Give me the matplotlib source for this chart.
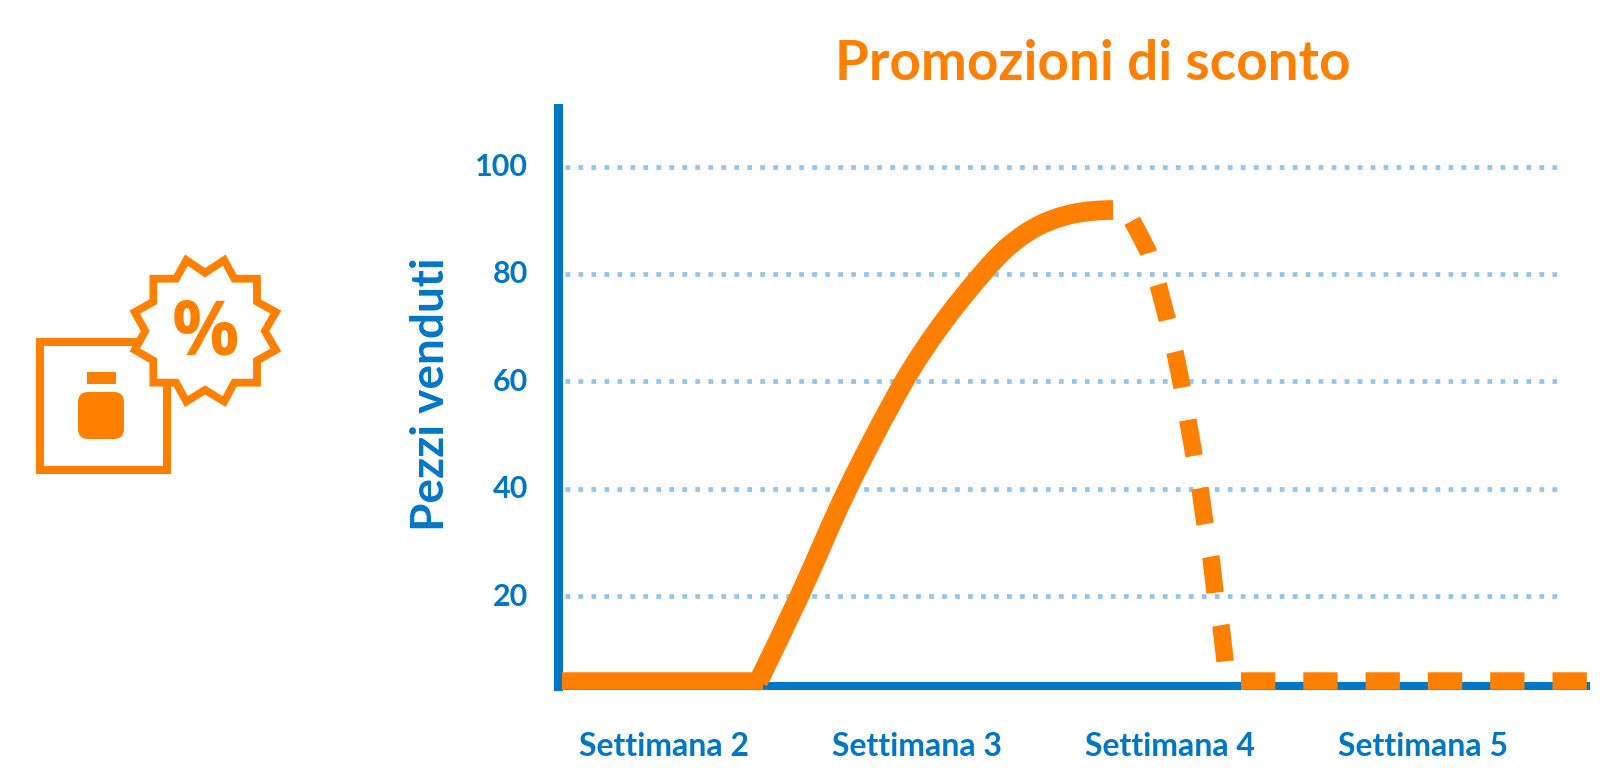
import matplotlib
matplotlib.use("Agg")
import matplotlib.pyplot as plt
from matplotlib.patches import Polygon, Rectangle, FancyBboxPatch, PathPatch
from matplotlib.path import Path
from matplotlib.transforms import ScaledTranslation
import numpy as np

plt.rcParams['font.family'] = ['Lato', 'DejaVu Sans']

BLUE = '#0076c6'
ORANGE = '#ff8000'
GRID = '#93c4ea'

weeks = [2, 3, 4, 5]
week_labels = ['Settimana 2', 'Settimana 3', 'Settimana 4', 'Settimana 5']
y_ticks = [20, 40, 60, 80, 100]

# before the promo, flat
flat_x = [1.597, 2.39]
flat_y = [4.12, 4.12]

# sales while the promo runs
rise_x = [2.372, 2.535, 2.726, 2.949, 3.091, 3.257, 3.368, 3.486, 3.617, 3.775]
rise_y = [4.0, 20, 40, 60, 70.2, 80, 85.4, 89.1, 91.2, 91.9]

# expected drop, dashed
drop_x = [3.850, 3.881, 3.913, 3.953, 3.988, 4.020, 4.047, 4.071, 4.095, 4.119, 4.138, 4.162, 4.178, 4.202, 4.222]
drop_y = [89.9, 87.2, 84.2, 78.0, 71.7, 65.3, 59.0, 52.6, 46.2, 39.9, 33.5, 27.1, 20.6, 14.2, 6.0]

after_x = [4.281, 5.656]
after_y = [4.12, 4.12]

fig = plt.figure(figsize=(16, 7.8), dpi=100)
ax = fig.add_axes([558 / 1600, 94.2 / 780, 1028 / 1600, 577.8 / 780])
ax.set_xlim(1.581, 5.644)
ax.set_ylim(3.28, 110.9)

for s in ['top', 'right']:
    ax.spines[s].set_visible(False)
ax.spines['left'].set_color(BLUE)
ax.spines['left'].set_linewidth(6.5)
ax.spines['bottom'].set_color(BLUE)
ax.spines['bottom'].set_linewidth(5.8)

ax.hlines(y_ticks, 1.609, 5.534, colors=GRID, linewidth=3.4, linestyles=(0, (1, 1.75)), zorder=1)

lw = 12.6


def smooth_path(xs, ys):
    # bezier through the read points, flat at the far end
    pts = ax.transData.transform(np.column_stack([xs, ys]))
    n = len(pts)
    tang = np.zeros_like(pts)
    for i in range(n):
        a = pts[min(i + 1, n - 1)] - pts[max(i - 1, 0)]
        tang[i] = a / np.hypot(*a)
    tang[n - 1] = np.array([1.0, 0.0])
    verts = [pts[0]]
    codes = [Path.MOVETO]
    for i in range(n - 1):
        d = np.hypot(*(pts[i + 1] - pts[i])) / 3
        verts += [pts[i] + tang[i] * d, pts[i + 1] - tang[i + 1] * d, pts[i + 1]]
        codes += [Path.CURVE4] * 3
    return Path(ax.transData.inverted().transform(np.array(verts)), codes)


ax.plot(flat_x, flat_y, color=ORANGE, lw=lw, solid_capstyle='butt', zorder=3, clip_on=False)
ax.add_patch(PathPatch(smooth_path(rise_x, rise_y), fc='none', ec=ORANGE, lw=14.2, capstyle='butt',
                       zorder=3, clip_on=False))
ax.plot(drop_x, drop_y, color=ORANGE, lw=lw, dashes=(2.08, 1.88), dash_capstyle='butt', zorder=3, clip_on=False)
ax.plot(after_x, after_y, color=ORANGE, lw=lw, dashes=(1.96, 1.6), dash_capstyle='butt', zorder=3, clip_on=False)

ax.set_xticks(weeks)
ax.set_xticklabels(week_labels, fontsize=23, fontweight='bold', color=BLUE)
ax.set_yticks(y_ticks)
ax.set_yticklabels(y_ticks, fontsize=22, fontweight='bold', color=BLUE)
ax.tick_params(axis='x', length=0, pad=33.5)
ax.tick_params(axis='y', length=0, pad=21.6)
for lab in ax.get_yticklabels():
    lab.set_transform(lab.get_transform() + ScaledTranslation(0, 2 / 100, fig.dpi_scale_trans))

ax.set_ylabel('Pezzi venduti', fontsize=33, fontweight='bold', color=BLUE, va='center')
ax.yaxis.set_label_coords((430.5 - 558) / 1028, (685.8 - 394.5) / 577.8)
ax.text((1093 - 558) / 1028, (685.8 - 64.5) / 577.8, 'Promozioni di sconto', transform=ax.transAxes,
        fontsize=39.5, fontweight='bold', color=ORANGE, ha='center', va='center')

# icon, in pixel coords on its own overlay
icon = fig.add_axes([0, 0, 1, 1], facecolor='none')
icon.set_xlim(0, 1600)
icon.set_ylim(780, 0)
icon.axis('off')

icon.add_patch(Rectangle((40, 342), 127, 128, fc='none', ec=ORANGE, lw=5.8, joinstyle='miter'))
icon.add_patch(Rectangle((87, 372), 29, 12, fc=ORANGE, ec='none'))
icon.add_patch(FancyBboxPatch((88, 402), 26, 27, boxstyle='round,pad=10,rounding_size=10', fc=ORANGE, ec='none'))

star = np.array([(556, 78), (615, 118), (676, 78), (708, 137), (780, 137), (780, 210), (840, 243), (805, 303),
                 (840, 363), (780, 397), (780, 467), (708, 467), (676, 527), (615, 490), (556, 527), (523, 467),
                 (451, 467), (451, 397), (392, 363), (425, 303), (392, 243), (451, 210), (451, 137), (523, 137)], float)
centre = np.array([615, 303])
star = (centre + (star - centre) * 0.945) / 3 + np.array([0, 230])
icon.add_patch(Polygon(star, closed=True, fc='white', ec=ORANGE, lw=5.6, joinstyle='miter'))
icon.text(206, 335, '%', fontsize=54, fontweight='bold', color=ORANGE, ha='center', va='center',
          family=['Open Sans', 'DejaVu Sans'])

fig.savefig('out.png', dpi=100)
